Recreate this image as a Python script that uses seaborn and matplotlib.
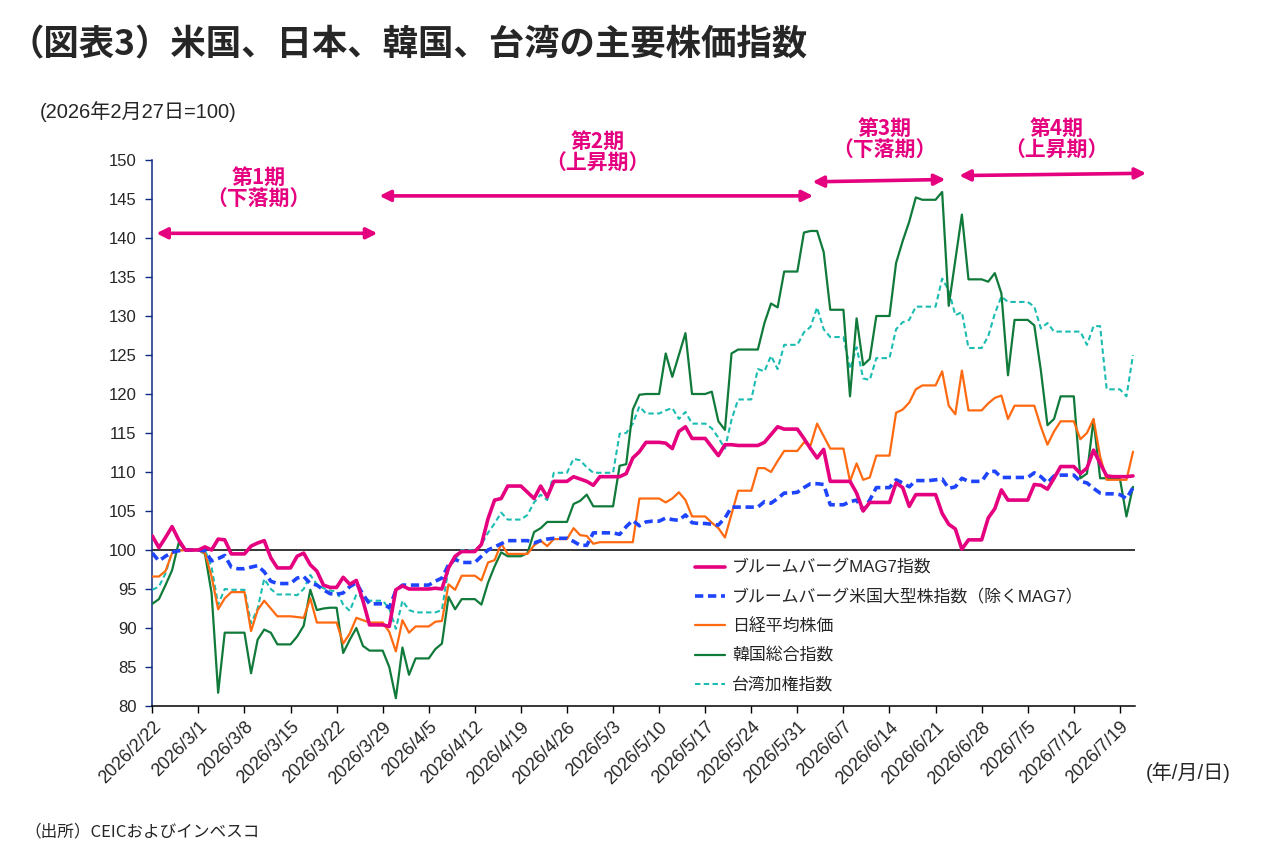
import numpy as np
import pandas as pd
import matplotlib
matplotlib.use("Agg")
import matplotlib.pyplot as plt
import seaborn as sns

# ---- Data (2026/2/27 = 100, daily incl. weekends) ----
start_date = "2026-02-22"
n_days = 150

mag7 = [
    101.8, 100.3, 101.6, 103.0, 101.3, 100.0, 100.0, 100.0, 100.4, 100.0,
    101.4, 101.3, 99.5, 99.5, 99.5, 100.5, 100.9, 101.2, 99.0, 97.7,
    97.7, 97.7, 99.2, 99.6, 98.1, 97.3, 95.5, 95.2, 95.2, 96.5,
    95.6, 96.1, 93.5, 90.4, 90.4, 90.4, 90.2, 94.9, 95.4, 95.0,
    95.0, 95.0, 95.0, 95.1, 95.0, 97.7, 99.2, 99.8, 99.8, 99.8,
    100.7, 104.0, 106.4, 106.6, 108.2, 108.2, 108.2, 107.4, 106.6, 108.2,
    106.8, 108.8, 108.8, 108.8, 109.4, 109.1, 108.8, 108.3, 109.4, 109.4,
    109.4, 109.4, 109.8, 111.8, 112.6, 113.8, 113.8, 113.8, 113.7, 113.0,
    115.2, 115.8, 114.3, 114.3, 114.3, 113.2, 112.1, 113.5, 113.5, 113.4,
    113.4, 113.4, 113.4, 113.8, 114.8, 115.8, 115.5, 115.5, 115.5, 114.3,
    113.0, 111.8, 112.9, 108.8, 108.8, 108.8, 108.8, 107.3, 105.0, 106.1,
    106.1, 106.1, 106.1, 108.6, 108.0, 105.6, 107.1, 107.1, 107.1, 107.1,
    104.7, 103.3, 102.7, 100.1, 101.3, 101.3, 101.3, 104.1, 105.3, 107.7,
    106.4, 106.4, 106.4, 106.4, 108.4, 108.3, 107.8, 109.2, 110.7, 110.7,
    110.7, 109.8, 110.5, 112.8, 111.1, 109.5, 109.4, 109.4, 109.4, 109.5,
]

us_ex_mag7 = [
    99.6, 98.6, 99.2, 99.7, 99.9, 100.0, 100.0, 100.0, 99.9, 98.6,
    98.9, 99.3, 97.8, 97.6, 97.6, 97.8, 98.0, 97.2, 96.0, 95.7,
    95.7, 95.7, 96.4, 96.6, 95.7, 95.5, 94.9, 94.4, 94.3, 94.5,
    95.3, 95.8, 94.3, 93.1, 93.1, 93.1, 92.6, 94.8, 95.5, 95.5,
    95.5, 95.5, 95.5, 96.0, 96.4, 98.1, 98.8, 98.4, 98.4, 98.4,
    99.2, 100.0, 100.4, 100.8, 101.2, 101.2, 101.2, 101.2, 100.9, 101.2,
    101.4, 101.5, 101.5, 101.5, 101.1, 100.6, 100.6, 102.2, 102.2, 102.2,
    102.2, 102.0, 103.0, 103.8, 103.1, 103.6, 103.7, 103.7, 104.1, 103.9,
    103.8, 104.5, 103.5, 103.4, 103.4, 103.3, 103.2, 104.1, 105.5, 105.5,
    105.5, 105.5, 105.5, 106.2, 106.0, 106.6, 107.3, 107.3, 107.4, 108.0,
    108.5, 108.5, 108.4, 105.8, 105.8, 105.8, 106.2, 106.4, 105.1, 106.4,
    108.0, 108.0, 108.0, 109.0, 108.6, 108.1, 108.9, 108.9, 108.9, 109.0,
    109.1, 107.9, 108.1, 109.2, 108.8, 108.8, 108.8, 110.0, 110.1, 109.3,
    109.3, 109.3, 109.3, 109.3, 109.9, 109.4, 108.6, 109.5, 109.6, 109.6,
    109.6, 108.8, 108.6, 107.9, 107.3, 107.2, 107.2, 107.1, 106.6, 108.0,
]

nikkei = [
    96.6, 96.6, 97.3, 99.6, 99.9, 100.0, 100.0, 100.0, 99.6, 96.6,
    92.4, 93.8, 94.6, 94.6, 94.6, 89.6, 92.3, 93.5, 92.5, 91.5,
    91.5, 91.5, 91.4, 91.3, 93.8, 90.7, 90.7, 90.7, 90.7, 88.0,
    89.3, 91.3, 91.0, 90.7, 90.7, 90.7, 89.5, 87.0, 91.0, 89.4,
    90.2, 90.2, 90.2, 90.8, 90.9, 95.6, 94.9, 96.7, 96.7, 96.7,
    96.1, 98.4, 98.7, 100.8, 99.5, 99.5, 99.5, 99.5, 100.6, 101.2,
    100.5, 101.4, 101.4, 101.4, 102.8, 101.9, 101.8, 100.8, 101.0, 101.0,
    101.0, 101.0, 101.0, 101.0, 106.6, 106.6, 106.6, 106.6, 106.1, 106.6,
    107.4, 106.4, 104.3, 104.3, 104.3, 103.5, 102.8, 101.6, 104.6, 107.6,
    107.6, 107.6, 110.5, 110.5, 110.0, 111.4, 112.7, 112.7, 112.7, 113.8,
    113.4, 116.2, 114.6, 113.0, 113.0, 113.0, 108.8, 111.1, 109.0, 109.3,
    112.1, 112.1, 112.1, 117.6, 118.0, 118.9, 120.6, 121.1, 121.1, 121.1,
    122.9, 118.5, 117.4, 123.0, 117.9, 117.9, 117.9, 118.8, 119.5, 119.8,
    116.8, 118.5, 118.5, 118.5, 118.5, 115.8, 113.5, 115.2, 116.5, 116.5,
    116.5, 114.2, 115.0, 116.8, 112.0, 109.0, 109.0, 109.0, 109.0, 112.6,
]

kospi = [
    93.1, 93.7, 95.5, 97.4, 100.9, 100.0, 100.0, 100.0, 99.5, 94.5,
    81.7, 89.4, 89.4, 89.4, 89.4, 84.2, 88.5, 89.8, 89.4, 87.9,
    87.9, 87.9, 88.9, 90.3, 94.9, 92.3, 92.5, 92.6, 92.6, 86.8,
    88.5, 90.0, 87.7, 87.1, 87.1, 87.1, 85.0, 81.0, 87.5, 84.0,
    86.1, 86.1, 86.1, 87.3, 88.0, 94.0, 92.4, 93.7, 93.7, 93.7,
    93.0, 95.8, 97.9, 99.7, 99.2, 99.2, 99.2, 99.6, 102.3, 102.8,
    103.6, 103.6, 103.6, 103.6, 105.9, 106.3, 107.1, 105.6, 105.6, 105.6,
    105.6, 110.8, 111.0, 118.0, 119.9, 120.0, 120.0, 120.0, 125.2, 122.2,
    125.0, 127.8, 120.0, 120.0, 120.0, 120.3, 116.5, 115.4, 125.2, 125.7,
    125.7, 125.7, 125.7, 129.1, 131.6, 131.1, 135.7, 135.7, 135.7, 140.7,
    140.9, 140.9, 138.2, 130.8, 130.8, 130.8, 119.7, 129.7, 123.7, 124.5,
    130.0, 130.0, 130.0, 136.8, 139.6, 142.1, 145.2, 144.9, 144.9, 144.9,
    145.9, 131.3, 137.2, 143.0, 134.7, 134.7, 134.7, 134.4, 135.5, 132.9,
    122.4, 129.5, 129.5, 129.5, 128.8, 123.0, 116.0, 116.8, 119.7, 119.7,
    119.7, 109.2, 109.8, 116.7, 109.2, 109.2, 109.2, 109.2, 104.3, 108.1,
]

taiex = [
    94.9, 95.3, 97.0, 99.7, 100.0, 100.0, 100.0, 100.0, 100.0, 97.8,
    93.0, 95.0, 94.9, 94.9, 94.9, 90.6, 92.5, 96.3, 95.0, 94.3,
    94.3, 94.3, 94.2, 95.0, 96.8, 95.6, 95.1, 94.8, 94.7, 93.0,
    92.2, 94.3, 93.9, 93.5, 93.5, 93.5, 92.5, 89.9, 93.5, 92.3,
    92.0, 92.0, 92.0, 92.0, 92.3, 97.7, 98.8, 100.0, 100.0, 100.0,
    100.7, 102.2, 103.4, 104.8, 103.9, 103.9, 103.9, 104.5, 106.1, 107.1,
    106.4, 109.9, 109.9, 109.9, 111.7, 111.5, 110.6, 109.9, 109.9, 109.9,
    109.9, 114.9, 115.0, 116.2, 118.4, 117.5, 117.5, 117.5, 117.9, 118.2,
    116.8, 117.7, 116.2, 116.2, 116.2, 115.6, 114.4, 113.0, 116.7, 119.3,
    119.3, 119.3, 123.2, 122.9, 124.9, 123.2, 126.3, 126.3, 126.3, 127.9,
    128.6, 131.1, 128.3, 127.3, 127.3, 127.3, 123.2, 126.0, 122.0, 121.8,
    124.6, 124.6, 124.6, 128.3, 129.2, 129.5, 131.2, 131.2, 131.2, 131.2,
    134.8, 133.3, 130.1, 130.5, 125.9, 125.9, 125.9, 127.4, 130.3, 132.5,
    131.8, 131.8, 131.8, 131.8, 131.2, 128.4, 129.1, 128.0, 128.0, 128.0,
    128.0, 128.0, 126.3, 128.7, 128.7, 120.6, 120.6, 120.6, 119.7, 125.0,
]

series_names = [
    "ブルームバーグMAG7指数",
    "ブルームバーグ米国大型株指数（除くMAG7）",
    "日経平均株価",
    "韓国総合指数",
    "台湾加権指数",
]

tick_dates = ["2026-02-22", "2026-03-01", "2026-03-08", "2026-03-15", "2026-03-22",
              "2026-03-29", "2026-04-05", "2026-04-12", "2026-04-19", "2026-04-26",
              "2026-05-03", "2026-05-10", "2026-05-17", "2026-05-24", "2026-05-31",
              "2026-06-07", "2026-06-14", "2026-06-21", "2026-06-28", "2026-07-05",
              "2026-07-12", "2026-07-19"]
tick_labels = ["2026/2/22", "2026/3/1", "2026/3/8", "2026/3/15", "2026/3/22",
               "2026/3/29", "2026/4/5", "2026/4/12", "2026/4/19", "2026/4/26",
               "2026/5/3", "2026/5/10", "2026/5/17", "2026/5/24", "2026/5/31",
               "2026/6/7", "2026/6/14", "2026/6/21", "2026/6/28", "2026/7/5",
               "2026/7/12", "2026/7/19"]

dates = pd.date_range(start_date, periods=n_days, freq="D")
df = pd.DataFrame({"date": dates})
for name, vals in zip(series_names, [mag7, us_ex_mag7, nikkei, kospi, taiex]):
    df[name] = vals

# ---- Style ----
sns.set_style("white")
plt.rcParams["font.family"] = ["Liberation Sans", "Noto Sans CJK JP", "DejaVu Sans"]
jp = ["Noto Sans CJK JP", "DejaVu Sans"]

colors = ["#E4007F", "#1F45FC", "#FF6A10", "#107A3A", "#1BBDB2"]
widths = [2.6, 2.6, 1.6, 1.6, 1.5]
styles = ["-", (0, (2.3, 1.3)), "-", "-", (0, (2.6, 1.6))]
accent = "#E4007F"

fig = plt.figure(figsize=(12.8, 8.6), dpi=100)
ax = fig.add_axes([152 / 1280, 1 - 706 / 860, (1135 - 152) / 1280, 546 / 860])

ax.axhline(100, color="black", lw=1.1, zorder=1)

# draw order: back lines first, MAG7 on top
for i in [4, 3, 2, 1, 0]:
    sns.lineplot(data=df, x="date", y=series_names[i], ax=ax, color=colors[i],
                 linewidth=widths[i], linestyle=styles[i], label=series_names[i],
                 zorder=3 + (4 - i))

ax.set_xlim(pd.Timestamp(start_date) - pd.Timedelta(days=0.05),
            pd.Timestamp(start_date) + pd.Timedelta(days=149.3))
ax.set_ylim(80, 150)
ax.set_yticks(np.arange(80, 151, 5))
ax.set_xticks(pd.to_datetime(tick_dates))
ax.set_xticklabels(tick_labels, rotation=45, ha="right", rotation_mode="anchor")
ax.set_xlabel("")
ax.set_ylabel("")

for s in ["top", "right"]:
    ax.spines[s].set_visible(False)
ax.spines["left"].set_color("#0D2A80")
ax.spines["left"].set_linewidth(1.1)
ax.spines["bottom"].set_color("black")
ax.spines["bottom"].set_linewidth(1.1)
ax.tick_params(axis="y", direction="out", length=5, width=1, color="#0D2A80",
               labelsize=12, pad=6)
ax.tick_params(axis="x", direction="out", length=5, width=1, color="black",
               labelsize=13, pad=4)
ax.yaxis.set_ticks_position("left")
ax.xaxis.set_ticks_position("bottom")

# legend in the original order
handles, labels = ax.get_legend_handles_labels()
order = [labels.index(n) for n in series_names]
ax.legend([handles[k] for k in order], [labels[k] for k in order],
          loc="upper left", bbox_to_anchor=(0.552, 0.268), frameon=False,
          fontsize=12.2, handlelength=1.8, handletextpad=0.4,
          labelspacing=0.78, borderpad=0, borderaxespad=0)

# ---- Period annotations ----
d0 = pd.Timestamp(start_date)
def day(n):
    return d0 + pd.Timedelta(days=n)

period_text = ["第1期\n（下落期）", "第2期\n（上昇期）", "第3期\n（下落期）", "第4期\n（上昇期）"]
period_pos = [(16.1, 146.4), (67.6, 151.0), (111.3, 152.6), (137.4, 152.6)]
arrow_pos = [((0.6, 140.6), (34.2, 140.6)),
             ((34.5, 145.4), (100.4, 145.4)),
             ((100.3, 147.2), (120.5, 147.5)),
             ((122.6, 148.0), (151.0, 148.3))]

for txt, (px, py) in zip(period_text, period_pos):
    ax.text(day(px), py, txt, ha="center", va="center", color=accent,
            fontsize=15, fontweight="bold", linespacing=1.05,
            family=jp, clip_on=False)

for (x1, y1), (x2, y2) in arrow_pos:
    ax.annotate("", xy=(day(x2), y2), xytext=(day(x1), y1),
                arrowprops=dict(arrowstyle="<|-|>", color=accent, lw=2.6,
                                mutation_scale=16, shrinkA=0, shrinkB=0),
                annotation_clip=False)

# ---- Texts ----
fig.text(8 / 1280, 1 - 45 / 860, "（図表3）米国、日本、韓国、台湾の主要株価指数",
         fontsize=25.5, fontweight="bold", va="center", ha="left", family=jp)
fig.text(40 / 1280, 1 - 112 / 860, "(2026年2月27日=100)", fontsize=14.5,
         va="center", ha="left")
fig.text(1146 / 1280, 1 - 773 / 860, "(年/月/日)", fontsize=14.5,
         va="center", ha="left")
fig.text(24 / 1280, 1 - 832 / 860, "（出所）CEICおよびインベスコ", fontsize=12,
         va="center", ha="left", family=jp)

fig.savefig("out.png", dpi=100)
